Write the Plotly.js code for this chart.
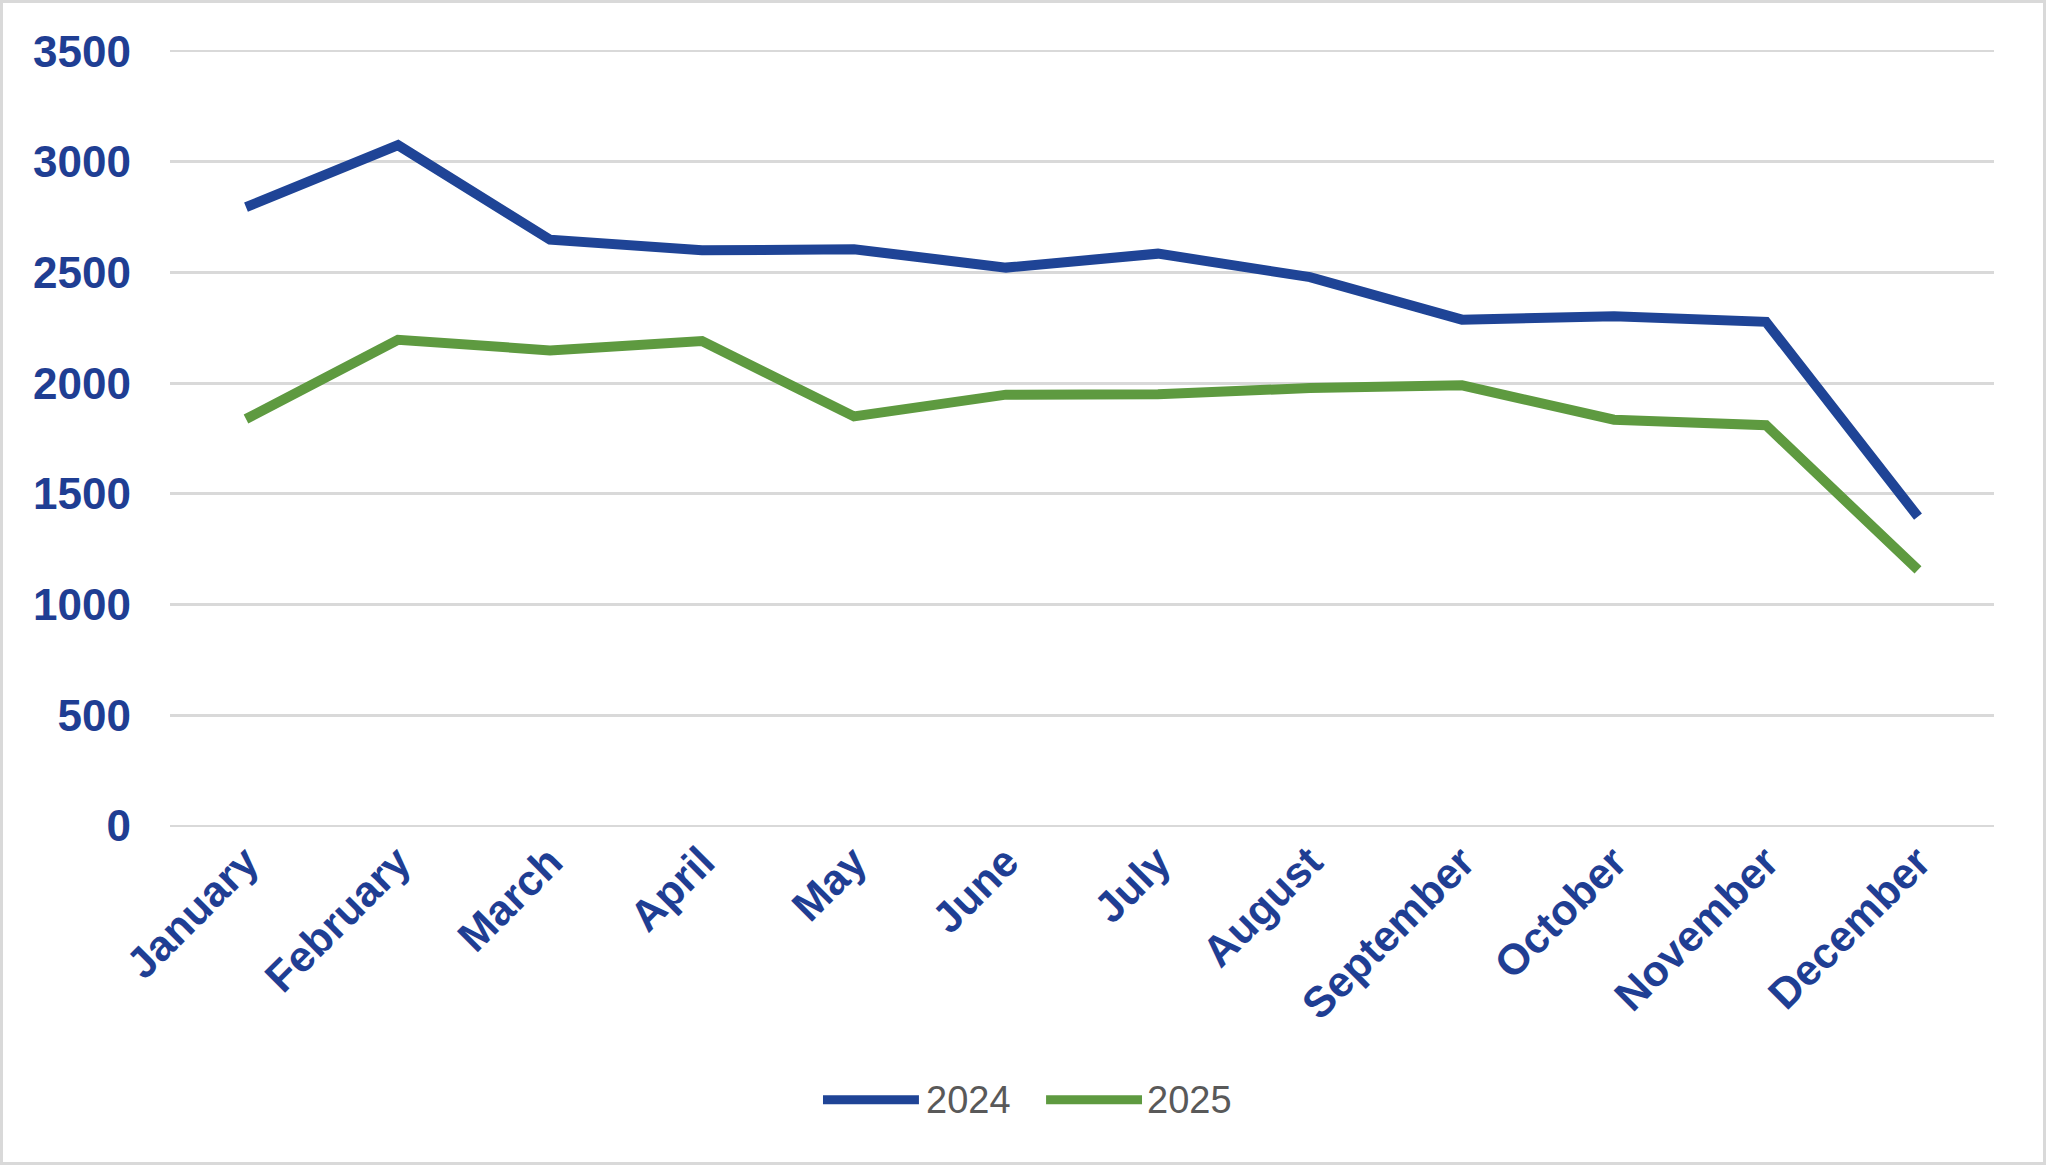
<!DOCTYPE html>
<html>
<head>
<meta charset="utf-8">
<script src="https://cdn.plot.ly/plotly-3.0.1.min.js"></script>
<style>
html,body{margin:0;padding:0;background:#fff;}
#chart{width:2046px;height:1165px;box-sizing:border-box;border:3px solid #d9d9d9;}
</style>
</head>
<body>
<div id="chart"></div>
<script>
const months = ["January","February","March","April","May","June","July","August","September","October","November","December"];
const values2024 = [2795, 3075, 2648, 2600, 2605, 2522, 2585, 2479, 2287, 2302, 2277, 1397];
const values2025 = [1838, 2196, 2148, 2190, 1850, 1948, 1950, 1978, 1990, 1835, 1810, 1156];
const seriesNames = ["2024", "2025"];
const yTicks = [0, 500, 1000, 1500, 2000, 2500, 3000, 3500];

const blue = "#1F4496";
const green = "#5E9A40";
const colors = [blue, green];
const labelColor = "#1F3E93";

const traces = [
  {x: months, y: values2024, name: seriesNames[0], type: "scatter", mode: "lines",
   line: {color: blue, width: 10}},
  {x: months, y: values2025, name: seriesNames[1], type: "scatter", mode: "lines",
   line: {color: green, width: 10}}
];

// custom legend (long line swatches like the original)
const legY = -0.351;
const legLines = [[0.3580, 0.4106], [0.4803, 0.5329]];
const legText = [0.4136, 0.5348];
const shapes = seriesNames.map((n, i) => ({
  type: "line", xref: "paper", yref: "paper",
  x0: legLines[i][0], x1: legLines[i][1], y0: legY, y1: legY,
  line: {color: colors[i], width: 9}
}));
const annotations = seriesNames.map((n, i) => ({
  text: n, xref: "paper", yref: "paper", x: legText[i], y: legY,
  xanchor: "left", yanchor: "middle", showarrow: false,
  font: {size: 38, color: "#595959", family: "Liberation Sans, Arial, sans-serif"}
}));

const layout = {
  width: 2040, height: 1159,
  margin: {l: 167, r: 49, t: 47, b: 335},
  paper_bgcolor: "#ffffff", plot_bgcolor: "#ffffff",
  font: {family: "Liberation Sans, Arial, sans-serif"},
  showlegend: false,
  shapes: shapes,
  annotations: annotations,
  xaxis: {type: "category", range: [-0.5, 11.5], tickangle: -45,
          showgrid: false, zeroline: false, showline: false, ticks: "",
          tickfont: {size: 43, color: labelColor, family: "Liberation Sans, Arial, sans-serif", weight: "bold"},
          automargin: false},
  yaxis: {range: [-5, 3505], tickvals: yTicks, ticktext: yTicks.map(String),
          showgrid: true, gridcolor: "#d9d9d9", gridwidth: 2.7,
          zeroline: false, showline: false, ticks: "", ticklabelstandoff: 38,
          tickfont: {size: 44, color: labelColor, family: "Liberation Sans, Arial, sans-serif", weight: "bold"},
          automargin: false}
};

Plotly.newPlot("chart", traces, layout, {displayModeBar: false, staticPlot: true});
</script>
</body>
</html>
